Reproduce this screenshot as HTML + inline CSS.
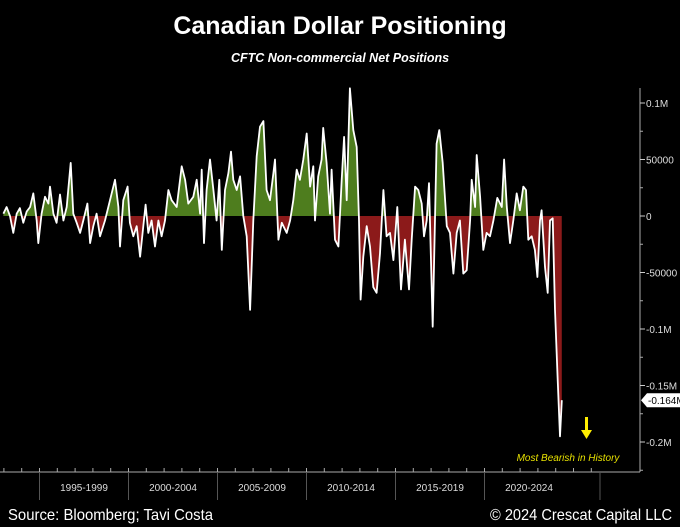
<!DOCTYPE html>
<html><head><meta charset="utf-8"><style>
body{margin:0;background:#000;width:680px;height:527px;overflow:hidden;font-family:"Liberation Sans",sans-serif}
svg{display:block}
</style></head><body>
<svg width="680" height="527">
<text x="340" y="34" text-anchor="middle" fill="#fff" font-size="25" font-weight="bold">Canadian Dollar Positioning</text>
<text x="340" y="62" text-anchor="middle" fill="#fff" font-size="12.5" font-weight="bold" font-style="italic">CFTC Non-commercial Net Positions</text>
<g id="plot"></g>
<text x="8" y="520" fill="#fff" font-size="16" textLength="205" lengthAdjust="spacingAndGlyphs">Source: Bloomberg; Tavi Costa</text>
<text x="490" y="520" fill="#fff" font-size="16" textLength="182" lengthAdjust="spacingAndGlyphs">© 2024 Crescat Capital LLC</text>
</svg>
<script>
const years=[1992.97,1993.15,1993.34,1993.53,1993.72,1993.90,1994.09,1994.28,1994.47,1994.65,1994.84,1994.93,1995.12,1995.31,1995.50,1995.59,1995.78,1995.96,1996.15,1996.34,1996.53,1996.75,1996.90,1997.09,1997.28,1997.46,1997.69,1997.84,1998.02,1998.21,1998.40,1998.68,1998.96,1999.24,1999.43,1999.52,1999.71,1999.95,2000.08,2000.27,2000.46,2000.65,2000.83,2000.96,2001.11,2001.30,2001.49,2001.68,2001.86,2002.05,2002.24,2002.42,2002.71,2002.99,2003.18,2003.36,2003.64,2003.83,2004.02,2004.11,2004.24,2004.39,2004.58,2004.77,2004.95,2005.10,2005.24,2005.42,2005.61,2005.76,2005.89,2006.08,2006.27,2006.45,2006.64,2006.83,2007.01,2007.20,2007.39,2007.58,2007.76,2007.95,2008.14,2008.23,2008.42,2008.61,2008.89,2009.08,
2009.26,2009.45,2009.63,2009.82,2010.01,2010.20,2010.38,2010.48,2010.66,2010.85,2010.94,2011.13,2011.32,2011.41,2011.60,2011.79,2011.98,2012.11,2012.26,2012.44,2012.63,2012.82,2012.95,2013.04,2013.19,2013.38,2013.57,2013.75,2013.94,2014.13,2014.32,2014.50,2014.69,2014.88,2015.10,2015.31,2015.53,2015.76,2015.91,2016.10,2016.28,2016.47,2016.60,2016.75,2016.88,2017.09,2017.31,2017.46,2017.65,2017.88,2018.06,2018.25,2018.44,2018.62,2018.81,2019.00,2019.19,2019.28,2019.47,2019.56,2019.75,2019.93,2020.12,2020.31,2020.50,2020.72,2020.97,2021.10,2021.25,2021.43,2021.62,2021.81,2021.99,2022.18,2022.33,2022.46,2022.65,2022.83,2022.97,2023.12,2023.21,2023.40,2023.55,2023.68,2023.83,2023.96,2024.11,2024.24,2024.34];
const positions=[2,8,0,-15,2,7,-6,4,8,20,-4,-24,2,17,11,26,2,-6,19,-4,8,47,2,-6,-15,-4,11,-24,-9,2,-18,-4,14,32,8,-27,14,26,-6,-18,-9,-36,-9,10,-15,-4,-27,-4,-18,-4,23,14,8,44,32,11,17,32,2,41,-24,23,50,23,-4,32,-30,23,38,57,32,23,35,0,-18,-83,-4,53,79,84,23,14,38,50,-21,-6,-15,-4,
14,41,32,50,73,26,44,-4,35,50,78,47,2,41,-21,-27,32,70,14,113,76,61,-4,-74,-36,-9,-27,-63,-68,-33,23,-18,-15,-39,8,-65,-21,-65,-21,26,23,11,-18,-4,29,-98,64,76,47,-9,-15,-51,-15,-4,-51,-48,-4,32,8,54,17,-30,-15,-18,-4,16,8,50,8,-24,-4,20,5,26,23,-21,-18,-30,-54,-4,5,-45,-68,-4,-2,-83,-145,-195,-163];
const yTicks=[100,50,0,-50,-100,-150,-200];
const yTickLabels=["0.1M","50000","0","-50000","-0.1M","-0.15M","-0.2M"];
const periods=["1995-1999","2000-2004","2005-2009","2010-2014","2015-2019","2020-2024"];
const lastLabel="-0.164M";

const NS="http://www.w3.org/2000/svg";
const X=y=>39.5+(y-1995)*17.8;
const Y=v=>216-v*1.13;
const g=document.getElementById('plot');
function mk(t,a,p){const e=document.createElementNS(NS,t);for(const k in a)e.setAttribute(k,a[k]);(p||g).appendChild(e);return e;}
const defs=mk('defs',{});
const ca=mk('clipPath',{id:'above'},defs);mk('rect',{x:0,y:0,width:640,height:216},ca);
const cb=mk('clipPath',{id:'below'},defs);mk('rect',{x:0,y:216,width:640,height:300},cb);
let pts=years.map((y,i)=>X(y).toFixed(1)+','+Y(positions[i]).toFixed(1));
const area='M'+X(years[0])+','+Y(0)+' L'+pts.join(' L')+' L'+X(years[years.length-1])+','+Y(0)+'Z';
const ga=mk('path',{d:area,fill:'#4e7d1e','clip-path':'url(#above)'});

const gb=mk('path',{d:area,fill:'#8c1a1a','clip-path':'url(#below)'});

const ln=mk('polyline',{points:pts.join(' '),fill:'none',stroke:'#fff','stroke-width':1.8,'stroke-linejoin':'round'});

const ya=mk('line',{x1:640,y1:88,x2:640,y2:472,stroke:'#aaa','stroke-width':1});

for(let v=100;v>=-225;v-=25){mk('line',{x1:640,x2:643,y1:Y(v),y2:Y(v),stroke:'#aaa'});}
yTicks.forEach((v,i)=>{
  mk('line',{x1:640,x2:645,y1:Y(v),y2:Y(v),stroke:'#ccc'});
  const t=mk('text',{x:646,y:Y(v)+4,fill:'#ddd','font-size':10});t.textContent=yTickLabels[i];
  
});
const xa=mk('line',{x1:0,y1:472,x2:640,y2:472,stroke:'#aaa'});

for(let y=1993;y<=2026;y++){mk('line',{x1:X(y),x2:X(y),y1:468,y2:472,stroke:'#aaa'});}
for(let i=0;i<=periods.length;i++){const x=i<periods.length?X(1995+5*i):600;mk('line',{x1:x,x2:x,y1:472,y2:500,stroke:'#555'});}
periods.forEach((p,i)=>{
  const t=mk('text',{x:X(1995+5*i+2.5),y:491,fill:'#ddd','font-size':10,'text-anchor':'middle'});t.textContent=p;
  
});
const lv=positions[positions.length-1];const ly=Y(lv);
const lb=mk('path',{d:`M641,${ly} L647,${ly-7} L680,${ly-7} L680,${ly+7} L647,${ly+7}Z`,fill:'#fff'});

const lt=mk('text',{x:648,y:ly+4,fill:'#000','font-size':10});lt.textContent=lastLabel;
const ar=mk('path',{d:'M585,417 L588,417 L588,430 L592,430 L586.5,439 L581,430 L585,430Z',fill:'#ffee00'});

const an=mk('text',{x:568,y:461,fill:'#e6e000','font-size':10,'font-style':'italic','text-anchor':'middle'});an.textContent='Most Bearish in History';

</script>
</body></html>
